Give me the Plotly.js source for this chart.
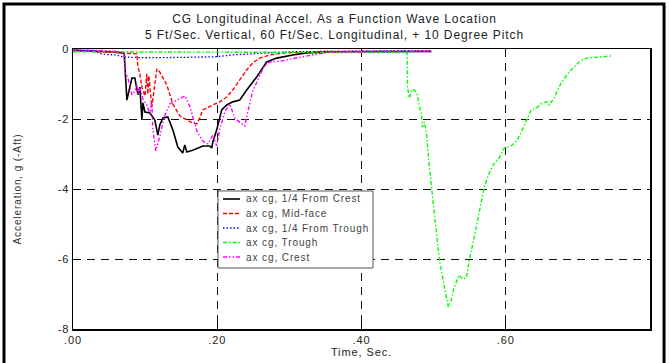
<!DOCTYPE html>
<html>
<head>
<meta charset="utf-8">
<script src="https://cdn.plot.ly/plotly-3.0.1.min.js"></script>
<style>
  html, body { margin: 0; padding: 0; background: #fff; }
  #chart { width: 669px; height: 363px; }
  text { letter-spacing: 0.9px; }
</style>
</head>
<body>
<div id="chart"></div>
<script>
// Time axis (s) and longitudinal CG acceleration (g) for each wave location
const tQuarterCrest = [0, 0.03, 0.06, 0.071, 0.0747, 0.0817, 0.0858, 0.090, 0.0927, 0.0955, 0.0969, 0.0997, 0.1066, 0.1135, 0.1176, 0.1204, 0.1246, 0.1315, 0.1384, 0.1453, 0.1522, 0.155, 0.1578, 0.166, 0.18, 0.1896, 0.1924, 0.1938, 0.1993, 0.2062, 0.2131, 0.2215, 0.2311, 0.2408, 0.2547, 0.2685, 0.2824, 0.3045, 0.3239, 0.37, 0.43, 0.497];
const aQuarterCrest = [-0.04, -0.06, -0.09, -0.12, -1.46, -0.83, -0.83, -1.31, -1.09, -2.03, -1.54, -1.8, -1.83, -2.03, -2.46, -2.17, -1.97, -1.94, -2.31, -2.8, -2.97, -2.74, -2.94, -2.89, -2.77, -2.77, -2.83, -2.66, -2.31, -1.74, -1.6, -1.51, -1.46, -1.17, -0.8, -0.37, -0.26, -0.17, -0.11, -0.08, -0.07, -0.07];

const tMidFace = [0, 0.03, 0.06, 0.0886, 0.090, 0.0927, 0.0955, 0.0997, 0.1024, 0.1038, 0.1052, 0.1093, 0.1135, 0.1163, 0.1204, 0.1301, 0.1384, 0.1481, 0.1578, 0.166, 0.1716, 0.1758, 0.18, 0.1869, 0.1938, 0.2035, 0.2131, 0.2215, 0.2311, 0.2408, 0.2491, 0.2588, 0.2727, 0.2962, 0.35, 0.43, 0.497];
const aMidFace = [-0.05, -0.07, -0.1, -0.14, -0.51, -0.71, -1.09, -1.34, -0.71, -1.29, -0.77, -1.66, -0.91, -0.57, -0.66, -1.03, -1.57, -1.91, -2.03, -2.11, -2.14, -1.97, -1.74, -1.66, -1.6, -1.51, -1.37, -1.17, -0.89, -0.6, -0.4, -0.26, -0.17, -0.11, -0.07, -0.06, -0.06];

const tQuarterTrough = [0, 0.03, 0.04, 0.06, 0.07, 0.1, 0.15, 0.2, 0.22, 0.26, 0.3, 0.4, 0.497];
const aQuarterTrough = [-0.03, -0.05, -0.15, -0.17, -0.23, -0.25, -0.24, -0.22, -0.17, -0.12, -0.08, -0.06, -0.05];

const tTrough = [0, 0.1, 0.2, 0.3, 0.4, 0.46, 0.4633, 0.4637, 0.4664, 0.4692, 0.4734, 0.4775, 0.4803, 0.483, 0.4844, 0.4872, 0.49, 0.4941, 0.4983, 0.5038, 0.508, 0.5149, 0.5204, 0.5246, 0.5287, 0.5356, 0.5398, 0.5453, 0.5495, 0.5564, 0.5633, 0.5702, 0.5772, 0.5841, 0.591, 0.5979, 0.6076, 0.6159, 0.6228, 0.6298, 0.6353, 0.6422, 0.6505, 0.6574, 0.6602, 0.6671, 0.6768, 0.6879, 0.7017, 0.7114, 0.7294, 0.746];
const aTrough = [-0.08, -0.09, -0.09, -0.09, -0.1, -0.1, -0.11, -1.09, -1.4, -1.17, -1.17, -1.31, -1.66, -1.83, -2.23, -2.09, -2.4, -3.37, -4.23, -5.17, -6.03, -6.8, -7.37, -7.17, -6.8, -6.46, -6.57, -6.54, -6.03, -5.37, -4.6, -3.94, -3.54, -3.26, -3.11, -2.83, -2.77, -2.6, -2.31, -1.97, -1.74, -1.69, -1.54, -1.51, -1.6, -1.4, -0.97, -0.66, -0.37, -0.26, -0.23, -0.2];

const tCrest = [0, 0.05, 0.0705, 0.072, 0.0761, 0.0817, 0.0858, 0.0886, 0.090, 0.0927, 0.0969, 0.1024, 0.1066, 0.1093, 0.1107, 0.1149, 0.1204, 0.126, 0.1343, 0.1439, 0.155, 0.1619, 0.1716, 0.18, 0.1869, 0.1938, 0.1993, 0.2035, 0.2104, 0.2173, 0.2242, 0.2311, 0.2381, 0.2422, 0.2491, 0.2561, 0.2644, 0.2727, 0.2907, 0.3003, 0.3142, 0.3322, 0.3557, 0.43, 0.497];
const aCrest = [-0.02, -0.05, -0.1, -0.66, -0.83, -1.31, -1.2, -1.03, -1.29, -1.11, -1.43, -1.6, -1.86, -1.51, -2.31, -2.91, -2.49, -1.97, -1.57, -1.46, -1.34, -1.63, -2.34, -2.63, -2.71, -2.46, -2.77, -2.29, -1.8, -1.57, -1.97, -2.09, -2.2, -1.8, -1.2, -0.89, -0.51, -0.37, -0.34, -0.29, -0.23, -0.17, -0.09, -0.07, -0.07];

const seriesNames = ['ax cg, 1/4 From Crest', 'ax cg, Mid-face', 'ax cg, 1/4 From Trough', 'ax cg, Trough', 'ax cg, Crest'];

const xTickVals = [0, 0.2, 0.4, 0.6];
const xTickText = ['.00', '.20', '.40', '.60'];
const yTickVals = [0, -2, -4, -6, -8];
const yTickText = ['0', '-2', '-4', '-6', '-8'];

const FONT = 'Liberation Sans, Arial, sans-serif';

const lineStyles = [
  { color: '#000000', width: 1.6, dash: 'solid' },
  { color: '#ff0000', width: 1.4, dash: '4px,2px' },
  { color: '#0000ff', width: 1.3, dash: '1.5px,2px' },
  { color: '#00ff00', width: 1.4, dash: '4px,2px,1.5px,2px' },
  { color: '#ff00ff', width: 1.4, dash: '4px,2px,1.5px,2px,1.5px,2px' }
];

const xs = [tQuarterCrest, tMidFace, tQuarterTrough, tTrough, tCrest];
const ys = [aQuarterCrest, aMidFace, aQuarterTrough, aTrough, aCrest];

const traces = seriesNames.map((name, i) => ({
  type: 'scatter', mode: 'lines', name: name,
  x: xs[i], y: ys[i], line: lineStyles[i], hoverinfo: 'skip'
}));

// Compact boxed key inside the plot area (paper coordinates)
const keyBox = { x0: 0.2513, x1: 0.5199, y0: 0.2179, y1: 0.4929 };
const keyTop = 0.4643, keyStep = 0.0518;
const keyShapes = [
  { type: 'rect', xref: 'paper', yref: 'paper',
    x0: keyBox.x0, x1: keyBox.x1, y0: keyBox.y0, y1: keyBox.y1,
    line: { color: '#555', width: 1 }, fillcolor: '#ffffff', layer: 'above' }
];
const keyNotes = [];
seriesNames.forEach((name, i) => {
  const yy = keyTop - i * keyStep;
  keyShapes.push({ type: 'line', xref: 'paper', yref: 'paper',
    x0: 0.2600, x1: 0.2894, y0: yy, y1: yy,
    line: Object.assign({}, lineStyles[i]), layer: 'above' });
  keyNotes.push({ xref: 'paper', yref: 'paper', x: 0.2964, y: yy,
    xanchor: 'left', yanchor: 'middle', showarrow: false, text: name,
    font: { family: FONT, size: 10, color: '#444' } });
});

// plot area spans 73..650 px horizontally and 49..329 px vertically
const layout = {
  width: 669, height: 363,
  margin: { l: 73, r: 19, t: 49, b: 34, pad: 0 },
  paper_bgcolor: '#ffffff', plot_bgcolor: '#ffffff',
  showlegend: false,
  font: { family: FONT, size: 11, color: '#222' },
  title: {
    text: 'CG Longitudinal Accel. As a Function Wave Location<br>5 Ft/Sec. Vertical, 60 Ft/Sec. Longitudinal, + 10 Degree Pitch',
    font: { family: FONT, size: 12, color: '#222' },
    x: 0.5, xanchor: 'center', xref: 'container',
    y: 0.936, yanchor: 'middle', yref: 'container'
  },
  xaxis: {
    range: [0, 0.8], tickvals: xTickVals, ticktext: xTickText,
    showgrid: true, gridcolor: '#111', griddash: '8px,6px', gridwidth: 1,
    zeroline: false, showline: true, linecolor: '#000', linewidth: 1.5, mirror: true,
    ticks: 'inside', ticklen: 6, tickcolor: '#000', tickwidth: 1,
    tickfont: { family: FONT, size: 11, color: '#222' },
    title: { text: 'Time, Sec.', font: { family: FONT, size: 11, color: '#222' }, standoff: 0 },
    fixedrange: true
  },
  yaxis: {
    range: [-8, 0], tickvals: yTickVals, ticktext: yTickText,
    showgrid: true, gridcolor: '#111', griddash: '8px,6px', gridwidth: 1,
    zeroline: false, showline: true, linecolor: '#000', linewidth: 1.5, mirror: true,
    ticks: 'inside', ticklen: 6, tickcolor: '#000', tickwidth: 1,
    tickfont: { family: FONT, size: 11, color: '#222' },
    title: { text: 'Acceleration, g (-Aft)', font: { family: FONT, size: 10, color: '#333' }, standoff: 34 },
    fixedrange: true
  },
  annotations: keyNotes,
  shapes: [
    // outer frame around the whole figure
    { type: 'rect', xref: 'paper', yref: 'paper',
      x0: -0.1196, x1: 1.0243, y0: -0.16, y1: 1.1607,
      line: { color: '#000', width: 3 }, fillcolor: 'rgba(0,0,0,0)', layer: 'above' }
  ].concat(keyShapes)
};

Plotly.newPlot('chart', traces, layout, { staticPlot: true, displayModeBar: false });
</script>
</body>
</html>
